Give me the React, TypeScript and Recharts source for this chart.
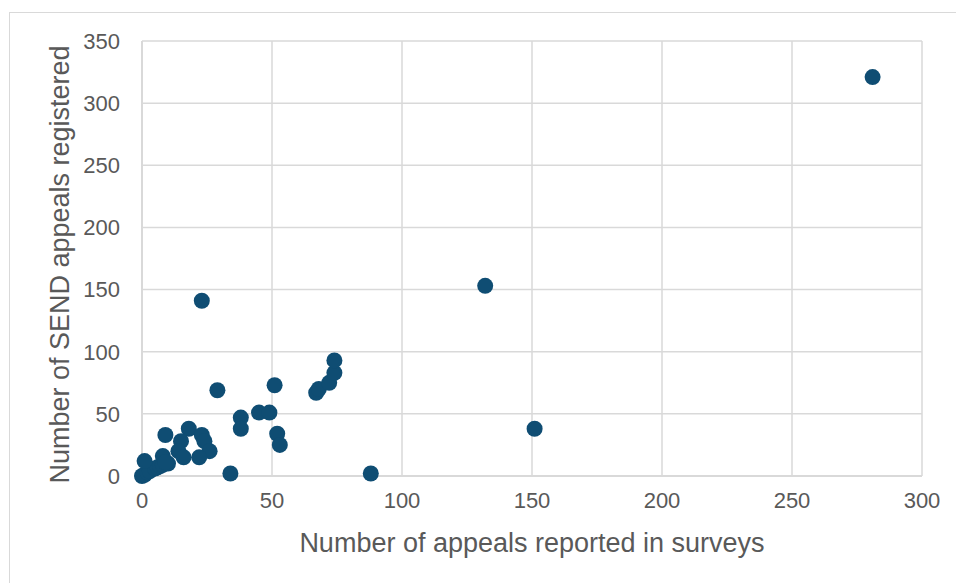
import { CartesianGrid, Label, Scatter, ScatterChart, XAxis, YAxis } from "recharts"

const surveyAppeals = [
  0, 1, 2, 3, 5, 6, 7, 8, 10, 1, 8, 9,
  9, 18, 15, 14, 16, 23, 24, 26, 22, 29, 23, 34,
  38, 38, 45, 49, 51, 52, 53, 67, 68, 72, 74, 74,
  88, 132, 151, 281,
]
const registeredAppeals = [
  0, 1, 3, 4, 6, 7, 8, 9, 10, 12, 16, 11,
  33, 38, 28, 20, 15, 33, 28, 20, 15, 69, 141, 2,
  47, 38, 51, 51, 73, 34, 25, 67, 70, 75, 83, 93,
  2, 153, 38, 321,
]
const xTicks = [0, 50, 100, 150, 200, 250, 300]
const yTicks = [0, 50, 100, 150, 200, 250, 300, 350]

const points = surveyAppeals.map((x, i) => ({ x, y: registeredAppeals[i] }))

const grey = "#595959"
const font = "'Liberation Sans', Arial, sans-serif"

const Dot = (props: any) => <circle cx={props.cx} cy={props.cy} r={8} fill="#0f4d73" />

const YTitle = (props: any) => {
  const vb = props.viewBox
  const cx = 60
  const cy = vb.y + vb.height / 2 + 6
  return (
    <text
      x={cx}
      y={cy}
      transform={`rotate(-90 ${cx} ${cy})`}
      textAnchor="middle"
      dominantBaseline="central"
      fill={grey}
      fontSize={27}
      fontFamily={font}
    >
      Number of SEND appeals registered
    </text>
  )
}

export default function App() {
  return (
    <div style={{ position: "absolute", left: 0, top: 0, width: 956, height: 583, background: "#fff", overflow: "hidden" }}>
      <div
        style={{
          position: "absolute",
          left: 9,
          top: 12,
          width: 1000,
          height: 1000,
          borderTop: "1px solid #d9d9d9",
          borderLeft: "1px solid #d9d9d9",
        }}
      />
      <div style={{ position: "absolute", left: 0, top: 0 }}>
        <ScatterChart width={956} height={583} margin={{ top: 41, right: 34, bottom: 0, left: 0 }}>
          <CartesianGrid stroke="#d9d9d9" strokeWidth={1.5} />
          <XAxis
            type="number"
            dataKey="x"
            domain={[0, 300]}
            ticks={xTicks}
            height={107}
            tickLine={false}
            axisLine={{ stroke: "#d9d9d9", strokeWidth: 2 }}
            tickSize={0}
            tickMargin={16}
            tick={{ fill: grey, fontSize: 22, fontFamily: font }}
            interval={0}
          >
            <Label
              value="Number of appeals reported in surveys"
              position="insideBottom"
              offset={31}
              fill={grey}
              fontSize={27}
              fontFamily={font}
            />
          </XAxis>
          <YAxis
            type="number"
            dataKey="y"
            domain={[0, 350]}
            ticks={yTicks}
            width={142}
            tickLine={false}
            axisLine={{ stroke: "#d9d9d9", strokeWidth: 2 }}
            tickSize={0}
            tickMargin={22}
            tick={{ fill: grey, fontSize: 22, fontFamily: font }}
            interval={0}
          >
            <Label content={<YTitle />} />
          </YAxis>
          <Scatter data={points} shape={<Dot />} isAnimationActive={false} />
        </ScatterChart>
      </div>
    </div>
  )
}
